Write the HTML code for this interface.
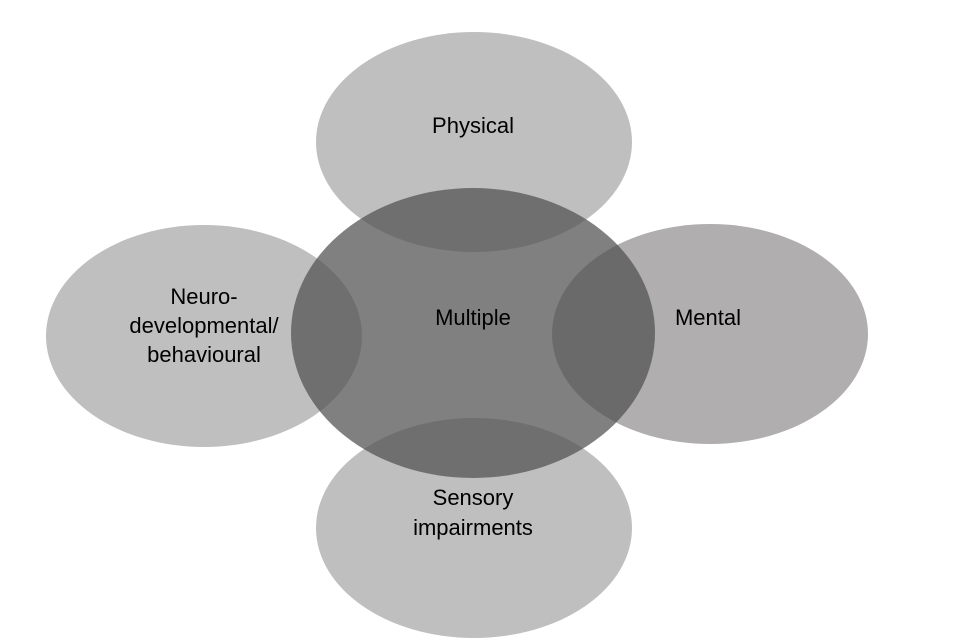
<!DOCTYPE html>
<html><head><style>body{margin:0;background:#fff}svg{display:block}</style></head>
<body>
<svg width="960" height="640" viewBox="0 0 960 640" xmlns="http://www.w3.org/2000/svg" font-family="Liberation Sans, sans-serif" font-size="22" fill="#000">
<ellipse cx="474" cy="142" rx="158" ry="110" fill="#bfbfbf"/>
<ellipse cx="204" cy="336" rx="158" ry="111" fill="#bfbfbf"/>
<ellipse cx="710" cy="334" rx="158" ry="110" fill="#b0aeaf"/>
<ellipse cx="474" cy="528" rx="158" ry="110" fill="#bfbfbf"/>
<ellipse cx="473" cy="333" rx="182" ry="145" fill="#515151" fill-opacity="0.73"/>
<g text-anchor="middle">
<text x="473" y="133">Physical</text>
<text x="473" y="325">Multiple</text>
<text x="708" y="325">Mental</text>
<text x="204" y="304">Neuro-</text>
<text x="204" y="333">developmental/</text>
<text x="204" y="362">behavioural</text>
<text x="473" y="505">Sensory</text>
<text x="473" y="535">impairments</text>
</g>
</svg>
</body></html>
